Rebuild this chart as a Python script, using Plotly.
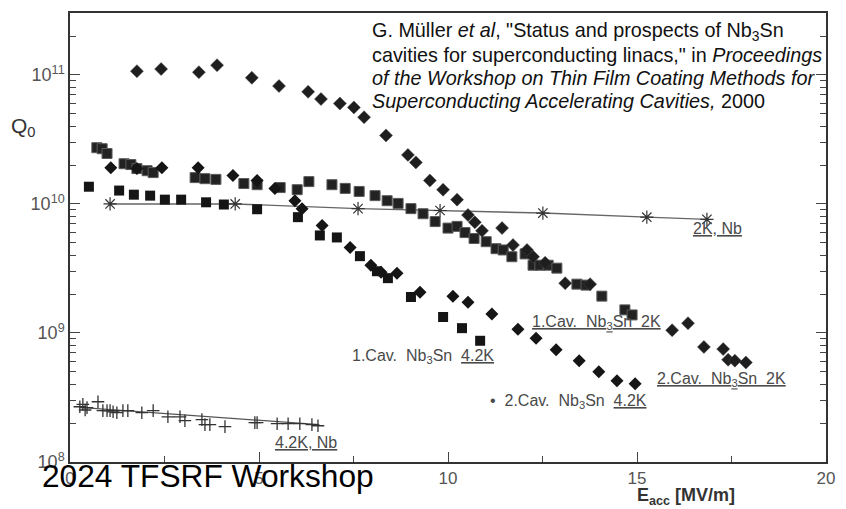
import plotly.graph_objects as go

# ---------------- data ----------------
# 2K, Nb (asterisks, connected)
nb2k_x = [1.06, 4.37, 7.62, 9.79, 12.51, 15.26, 16.85]
nb2k_q = [1.0e10, 1.0e10, 9.2e9, 8.9e9, 8.5e9, 7.9e9, 7.6e9]

# 4.2K, Nb (plus signs) and its fitted line
nb42_x = [0.26, 0.34, 0.40, 0.45, 0.74, 0.87, 0.98, 1.06, 1.14, 1.24, 1.40, 1.53, 1.90, 2.20,
          2.59, 2.91, 3.04, 3.49, 3.57, 3.70, 4.10, 4.89, 4.95, 5.48, 5.77, 6.08, 6.40, 6.56]
nb42_q = [2.68e8, 2.80e8, 2.53e8, 2.64e8, 2.93e8, 2.50e8, 2.50e8, 2.50e8, 2.45e8, 2.41e8, 2.50e8,
          2.50e8, 2.41e8, 2.50e8, 2.24e8, 2.24e8, 2.09e8, 2.13e8, 1.95e8, 1.95e8, 1.88e8, 2.02e8,
          2.02e8, 1.98e8, 1.98e8, 1.98e8, 1.95e8, 1.91e8]
nb42_fit_x = [0.25, 6.6]
nb42_fit_q = [2.65e8, 1.95e8]

# 1.Cav. Nb3Sn 2K (squares)
c1_2k_x = [0.71, 0.85, 0.98, 1.43, 1.61, 1.77, 2.04, 2.20, 3.31, 3.57, 3.86, 4.60, 4.95, 5.56,
           6.01, 6.32, 6.93, 7.28, 7.65, 8.07, 8.39, 8.68, 9.02, 9.34, 9.66, 10.00, 10.24, 10.45,
           10.69, 11.01, 11.27, 11.46, 11.69, 12.04, 12.25, 12.43, 12.65, 12.88, 13.41, 13.65,
           14.07, 14.68, 14.87]
c1_2k_q = [2.73e10, 2.68e10, 2.46e10, 2.05e10, 2.02e10, 1.88e10, 1.81e10, 1.75e10, 1.60e10,
           1.57e10, 1.55e10, 1.44e10, 1.41e10, 1.34e10, 1.29e10, 1.49e10, 1.41e10, 1.32e10,
           1.25e10, 1.16e10, 1.06e10, 1.01e10, 9.2e9, 8.4e9, 7.3e9, 6.5e9, 6.7e9, 6.0e9, 5.4e9,
           5.1e9, 4.5e9, 4.4e9, 3.9e9, 4.1e9, 3.35e9, 3.35e9, 3.35e9, 3.18e9, 2.39e9, 2.35e9,
           1.93e9, 1.51e9, 1.38e9]

# 1.Cav. Nb3Sn 4.2K (filled squares)
c1_42_x = [0.50, 1.30, 1.69, 2.12, 2.51, 2.94, 3.60, 4.07, 4.95, 6.03, 6.61, 7.06, 7.67, 8.12,
           8.41, 9.02, 9.87, 10.37, 10.85]
c1_42_q = [1.36e10, 1.27e10, 1.18e10, 1.16e10, 1.08e10, 1.08e10, 1.03e10, 9.9e9, 9.1e9, 7.9e9,
           5.7e9, 5.5e9, 3.94e9, 3.01e9, 2.66e9, 1.90e9, 1.33e9, 1.09e9, 8.7e8]

# 2.Cav. Nb3Sn 2K (diamonds)
c2_2k_x = [1.77, 2.41, 3.41, 3.89, 4.81, 5.53, 6.30, 6.64, 7.14, 7.51, 7.78, 8.36, 8.94, 9.15,
           9.52, 9.87, 10.24, 10.53, 10.71, 10.90, 11.43, 11.72, 12.09, 12.25, 12.57, 13.10,
           13.76, 15.93, 16.35, 16.77, 17.28, 17.41, 17.59, 17.88]
c2_2k_q = [1.07e11, 1.11e11, 1.05e11, 1.19e11, 9.5e10, 8.2e10, 7.4e10, 6.5e10, 6.0e10, 5.6e10,
           4.7e10, 3.4e10, 2.4e10, 2.1e10, 1.52e10, 1.29e10, 1.08e10, 8.2e9, 7.2e9, 6.2e9, 6.5e9,
           4.8e9, 4.4e9, 3.9e9, 3.5e9, 2.43e9, 2.39e9, 1.05e9, 1.19e9, 7.8e8, 7.5e8, 6.2e8,
           6.1e8, 5.9e8]

# 2.Cav. Nb3Sn 4.2K (diamonds)
c2_42_x = [1.08, 1.77, 2.43, 3.39, 4.31, 4.95, 5.42, 5.95, 6.14, 6.67, 7.41, 7.96, 8.23, 8.65,
           9.26, 10.13, 10.53, 11.16, 11.85, 12.33, 12.86, 13.47, 13.99, 14.47, 14.95]
c2_42_q = [1.91e10, 1.88e10, 1.91e10, 1.91e10, 1.66e10, 1.52e10, 1.32e10, 1.06e10, 9.2e9, 6.8e9,
           4.6e9, 3.35e9, 2.96e9, 2.90e9, 2.07e9, 1.93e9, 1.73e9, 1.40e9, 1.07e9, 9.1e8, 7.4e8,
           6.1e8, 5.0e8, 4.26e8, 4.04e8]

x_ticks = [0, 5, 10, 15, 20]
x_minor = [2.5, 7.5, 12.5, 17.5]
y_ticks = [1e8, 1e9, 1e10, 1e11]
y_ticktext = ["10<sup>8</sup>", "10<sup>9</sup>", "10<sup>10</sup>", "10<sup>11</sup>"]
y_minor = [m * d for d in (1e8, 1e9, 1e10, 1e11) for m in range(2, 10)]

citation_lines = [
    "G. Müller <i>et al</i>, \"Status and prospects of Nb<sub>3</sub>Sn",
    "cavities for superconducting linacs,\" in <i>Proceedings</i>",
    "<i>of the Workshop on Thin Film Coating Methods for</i>",
    "<i>Superconducting Accelerating Cavities,</i> 2000",
]

# ---------------- style ----------------
FONT = "Arial, 'Liberation Sans', sans-serif"
INK = "#151515"
GREY = "#4a4a4a"

fig = go.Figure()

fig.add_trace(go.Scatter(x=nb42_fit_x, y=nb42_fit_q, mode="lines",
                         line=dict(color="#555", width=1.2), hoverinfo="skip"))
fig.add_trace(go.Scatter(x=nb42_x, y=nb42_q, mode="markers",
                         marker=dict(symbol="cross-thin-open", size=9, color="#333",
                                     line=dict(color="#333", width=1.3))))
fig.add_trace(go.Scatter(x=nb2k_x, y=nb2k_q, mode="lines+markers",
                         line=dict(color="#666", width=1.4),
                         marker=dict(symbol="asterisk-open", size=11, color="#333",
                                     line=dict(color="#333", width=1.2))))
fig.add_trace(go.Scatter(x=c1_42_x, y=c1_42_q, mode="markers",
                         marker=dict(symbol="square", size=10, color=INK,
                                     line=dict(width=0))))
fig.add_trace(go.Scatter(x=c1_2k_x, y=c1_2k_q, mode="markers",
                         marker=dict(symbol="square", size=10, color="#222",
                                     line=dict(color="#5a5a5a", width=1))))
fig.add_trace(go.Scatter(x=c2_42_x, y=c2_42_q, mode="markers",
                         marker=dict(symbol="diamond", size=10, color=INK,
                                     line=dict(width=0))))
fig.add_trace(go.Scatter(x=c2_2k_x, y=c2_2k_q, mode="markers",
                         marker=dict(symbol="diamond", size=10, color="#1e1e1e",
                                     line=dict(color="#444", width=0.5))))

ann = []
def lab(text, x, ly, size=16, anchor="left", color=GREY):
    ann.append(dict(text=text, x=x, y=ly, xref="x", yref="y", showarrow=False,
                    xanchor=anchor, yanchor="middle",
                    font=dict(family=FONT, size=size, color=color)))

lab("<u>2K, Nb</u>", 17.12, 9.811, anchor="center")
lab("<u>1.Cav.  Nb<sub>3</sub>Sn  2K</u>", 12.17, 9.085)
lab("1.Cav.  Nb<sub>3</sub>Sn  <u>4.2K</u>", 7.41, 8.815)
lab("•  2.Cav.  Nb<sub>3</sub>Sn  <u>4.2K</u>", 11.06, 8.467)
lab("<u>2.Cav.  Nb<sub>3</sub>Sn  2K</u>", 15.48, 8.637)
lab("<u>4.2K, Nb</u>", 5.37, 8.151)

# citation, one annotation per line
for i, line in enumerate(citation_lines):
    ann.append(dict(text=line, xref="paper", yref="paper",
                    x=(370 - 70) / 756, y=(462 - (30 + 23 * i)) / 451,
                    xanchor="left", yanchor="middle", align="left", showarrow=False,
                    font=dict(family=FONT, size=19.8, color="#111")))

# axis titles
ann.append(dict(text="Q<sub>0</sub>", xref="paper", yref="paper",
                x=(23 - 70) / 756, y=(462 - 126) / 451, xanchor="center", yanchor="middle",
                showarrow=False, font=dict(family=FONT, size=21, color="#333")))
ann.append(dict(text="<b>E<sub>acc</sub> [MV/m]</b>", xref="paper", yref="paper",
                x=(686 - 70) / 756, y=(462 - 497) / 451, xanchor="center", yanchor="middle",
                showarrow=False, font=dict(family=FONT, size=18, color="#333")))
# watermark
ann.append(dict(text="2024 TFSRF Workshop", xref="paper", yref="paper",
                x=(40 - 70) / 756, y=(462 - 476) / 451, xanchor="left", yanchor="middle",
                showarrow=False, font=dict(family=FONT, size=31.7, color="#000")))

fig.update_layout(
    width=846, height=509,
    margin=dict(l=70, r=20, t=11, b=47),
    paper_bgcolor="white", plot_bgcolor="white",
    showlegend=False,
    annotations=ann,
    font=dict(family=FONT, color=GREY),
)
fig.update_xaxes(range=[0, 20], tickmode="array", tickvals=x_ticks,
                 ticks="inside", ticklen=10, tickwidth=1.3, tickcolor="#444",
                 showline=True, linecolor="#333", linewidth=1.5, mirror=True,
                 showgrid=False, zeroline=False,
                 tickfont=dict(family=FONT, size=17, color="#555"),
                 minor=dict(tickmode="array", tickvals=x_minor, ticks="inside",
                            ticklen=6, tickcolor="#444", showgrid=False))
fig.update_yaxes(type="log", range=[8, 11.48], tickmode="array", tickvals=y_ticks,
                 ticktext=y_ticktext,
                 ticks="inside", ticklen=10, tickwidth=1.3, tickcolor="#444",
                 showline=True, linecolor="#333", linewidth=1.5, mirror="ticks",
                 showgrid=False, zeroline=False,
                 tickfont=dict(family=FONT, size=18, color="#555"),
                 minor=dict(tickmode="array", tickvals=y_minor, ticks="inside",
                            ticklen=6, tickcolor="#444", showgrid=False))

fig.write_html("out.html")
